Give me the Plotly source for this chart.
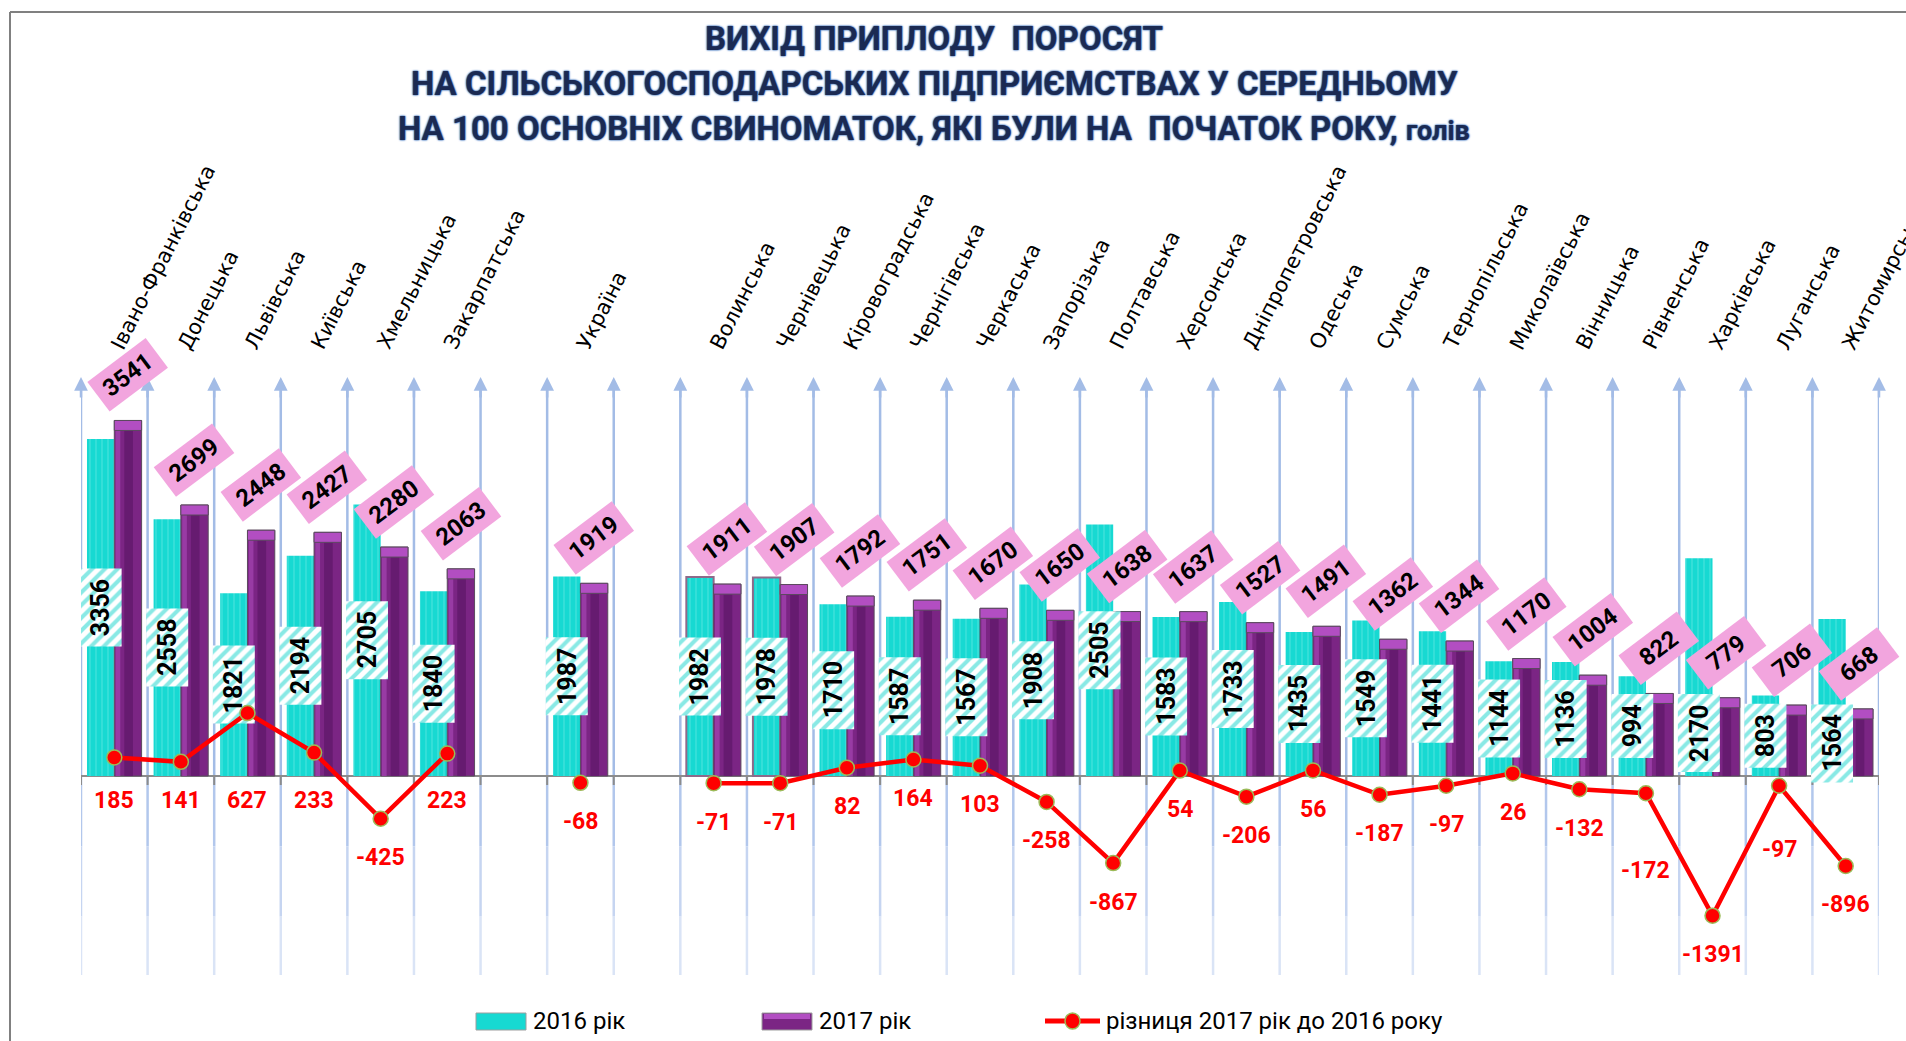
import plotly.graph_objects as go

# ---- data -------------------------------------------------------------
regions = [
    "Івано-Франківська", "Донецька", "Львівська", "Київська", "Хмельницька", "Закарпатська",
    "Україна",
    "Волинська", "Чернівецька", "Кіровоградська", "Чернігівська", "Черкаська", "Запорізька",
    "Полтавська", "Херсонська", "Дніпропетровська", "Одеська", "Сумська", "Тернопільська",
    "Миколаївська", "Вінницька", "Рівненська", "Харківська", "Луганська", "Житомирська",
]
group_sizes = [6, 1, 18]

v2016 = [3356, 2558, 1821, 2194, 2705, 1840,
         1987,
         1982, 1978, 1710, 1587, 1567, 1908, 2505, 1583, 1733, 1435, 1549, 1441,
         1144, 1136, 994, 2170, 803, 1564]
v2017 = [3541, 2699, 2448, 2427, 2280, 2063,
         1919,
         1911, 1907, 1792, 1751, 1670, 1650, 1638, 1637, 1527, 1491, 1362, 1344,
         1170, 1004, 822, 779, 706, 668]
diff = [185, 141, 627, 233, -425, 223,
        -68,
        -71, -71, 82, 164, 103, -258, -867, 54, -206, 56, -187, -97,
        26, -132, -172, -1391, -97, -896]

title_lines = [
    "ВИХІД ПРИПЛОДУ  ПОРОСЯТ",
    "НА СІЛЬСЬКОГОСПОДАРСЬКИХ ПІДПРИЄМСТВАХ У СЕРЕДНЬОМУ",
    "НА 100 ОСНОВНІХ СВИНОМАТОК, ЯКІ БУЛИ НА  ПОЧАТОК РОКУ,",
]
title_unit = "голів"
legend_names = ["2016 рік", "2017 рік", "різниця 2017 рік до 2016 року"]

# ---- layout geometry ----------------------------------------------------
W, H = 1906, 1041
M_L, M_R, M_T, M_B = 81, 27, 300, 66
PW, PH = W - M_L - M_R, H - M_T - M_B
Y_MIN, Y_MAX = -1982, 4741
X_MIN, X_MAX = -0.5, 26.5
U = (Y_MAX - Y_MIN) / PH          # value units per pixel
ARROW_TOP = 3974                   # where the grid arrows end


def px_x(px):
    return (px - M_L) / PW


def px_y(py):
    return (H - M_B - py) / PH


def py_val(py):
    return Y_MAX - (py - M_T) * U


# slot index of every region (one empty slot between groups)
xs = []
pos = 0
for gi, n in enumerate(group_sizes):
    xs.extend(range(pos, pos + n))
    pos += n + 1
n_slots = pos - 1
boundaries = [b - 0.5 for b in range(n_slots + 1)]

# difference line, broken between the groups
x_line, y_line = [], []
k = 0
for gi, n in enumerate(group_sizes):
    x_line.extend(xs[k:k + n])
    y_line.extend(diff[k:k + n])
    k += n
    if gi < len(group_sizes) - 1:
        x_line.append(None)
        y_line.append(None)

CYAN = "#17D9D2"
PURPLE = "#7B2584"
PINK = "#F2A5DE"
RED = "#FF0000"
GRID = "#A3BCE6"
NUM_FONT = "Roboto"

fig = go.Figure()

# 2016 bars
outlined = {"Волинська", "Чернівецька"}
fig.add_trace(go.Bar(
    x=xs, y=v2016, offset=-0.41, width=0.41, name=legend_names[0],
    marker=dict(
        color=CYAN,
        pattern=dict(shape="|", fgcolor="#70E9E4", bgcolor=CYAN, size=6, solidity=0.22),
        line=dict(color=["#8E6A8A" if r in outlined else CYAN for r in regions],
                  width=[2 if r in outlined else 0 for r in regions]),
    ),
    showlegend=False, hoverinfo="skip",
))

# 2017 bars with a bevelled look
fig.add_trace(go.Bar(
    x=xs, y=v2017, offset=0, width=0.41, name=legend_names[1],
    marker=dict(color=PURPLE, line=dict(color="#5B4A5E", width=1)),
    showlegend=False, hoverinfo="skip",
))
fig.add_trace(go.Bar(
    x=xs, y=[v - 10 * U for v in v2017], offset=0.02, width=0.07,
    marker=dict(color="#983BA4", line=dict(width=0)),
    showlegend=False, hoverinfo="skip",
))
fig.add_trace(go.Bar(
    x=xs, y=[v - 10 * U for v in v2017], offset=0.15, width=0.13,
    marker=dict(color="#661B70", line=dict(width=0)),
    showlegend=False, hoverinfo="skip",
))
fig.add_trace(go.Bar(
    x=xs, y=[10 * U] * len(v2017), base=[v - 10 * U for v in v2017], offset=0, width=0.41,
    marker=dict(color="#B24EC2", line=dict(color="#5B4A5E", width=1)),
    showlegend=False, hoverinfo="skip",
))

# hatched boxes behind the 2016 values
label_drop_2016 = {"Харківська": 66, "Житомирська": 46}
box_center = [v / 2 - label_drop_2016.get(r, 0) * U for r, v in zip(regions, v2016)]
box_h = [(len(str(v)) * 14 + 22) * U for v in v2016]
fig.add_trace(go.Bar(
    x=xs, y=box_h, base=[c - h / 2 for c, h in zip(box_center, box_h)],
    offset=-0.52, width=0.63,
    marker=dict(color="white",
                pattern=dict(shape="/", fgcolor="#14D3CC", bgcolor="white", size=9, solidity=0.45),
                line=dict(width=0)),
    showlegend=False, hoverinfo="skip",
))

# difference line
fig.add_trace(go.Scatter(
    x=x_line, y=y_line, mode="lines+markers", name=legend_names[2],
    line=dict(color=RED, width=4.5),
    marker=dict(size=15, color=RED, line=dict(color="#9BBB59", width=1.5)),
    connectgaps=False, showlegend=False, hoverinfo="skip",
))

shapes = []
annotations = []

# vertical grid lines with arrowheads
for b in boundaries:
    shapes.append(dict(type="line", xref="x", yref="y", x0=b, x1=b, y0=0, y1=ARROW_TOP - 8 * U,
                       line=dict(color=GRID, width=2.5), layer="below"))
    for y0, y1, col in [(0, -700, "#B2C7EC"), (-700, -1400, "#C6D5F1"), (-1400, Y_MIN, "#DAE4F6")]:
        shapes.append(dict(type="line", xref="x", yref="y", x0=b, x1=b, y0=y0, y1=y1,
                           line=dict(color=col, width=2.5), layer="below"))
    annotations.append(dict(x=b, y=ARROW_TOP, xref="x", yref="y", text="", showarrow=True,
                            arrowhead=2, arrowsize=1.1, arrowwidth=2.5, arrowcolor=GRID,
                            ax=0, ay=22, standoff=0))
    shapes.append(dict(type="line", xref="x", yref="y", x0=b, x1=b, y0=0, y1=-9 * U,
                       line=dict(color="#8C8C8C", width=2), layer="below"))

# category axis line
shapes.append(dict(type="line", xref="x", yref="y", x0=X_MIN, x1=X_MAX, y0=0, y1=0,
                   line=dict(color="#8C8C8C", width=2), layer="below"))

# rotated category names
for r, x in zip(regions, xs):
    annotations.append(dict(x=x - 0.16, y=py_val(356), xref="x", yref="y", text=r,
                            textangle=-63, showarrow=False, xanchor="left", yanchor="bottom",
                            font=dict(family="DejaVu Sans", size=21, color="black")))

# 2016 values (vertical)
for x, v, c in zip(xs, v2016, box_center):
    annotations.append(dict(x=x - 0.205, y=c, xref="x", yref="y", text=f"<b>{v}</b>",
                            textangle=-90, showarrow=False,
                            font=dict(family=NUM_FONT, size=25, color="black")))

# 2017 values (pink tilted tags)
for x, v in zip(xs, v2017):
    annotations.append(dict(x=x + 0.2, y=v + 45 * U, xref="x", yref="y", text=f"<b>{v}</b>",
                            textangle=-37, showarrow=False, bgcolor=PINK, width=68, height=32,
                            borderpad=2, font=dict(family=NUM_FONT, size=24, color="black")))

# difference values
drop_override = {"Рівненська": 77, "Луганська": 64}
for gi_r, (r, x, d) in enumerate(zip(regions, xs, diff)):
    if gi_r < group_sizes[0] and d > 0:
        y = -24 * U
    else:
        y = d - drop_override.get(r, 39) * U
    annotations.append(dict(x=x, y=y, xref="x", yref="y", text=f"<b>{d}</b>",
                            showarrow=False, font=dict(family=NUM_FONT, size=23, color=RED)))

# title
title_font = dict(family="Roboto", size=33, color="#1B2A52",
                  shadow="0 0 2px #4A7CC0, 0 0 2px #4A7CC0, 0 0 1px #4A7CC0")
title_y = [39, 84, 128]
for i, (t, ty) in enumerate(zip(title_lines, title_y)):
    txt = f"<b>{t}</b>"
    if i == len(title_lines) - 1:
        txt += f" <b><span style='font-size:27px'>{title_unit}</span></b>"
    annotations.append(dict(x=px_x(934), y=px_y(ty), xref="paper", yref="paper", text=txt,
                            showarrow=False, xanchor="center", yanchor="middle", font=title_font))

# legend (drawn by hand)
leg_y0, leg_y1, leg_yc = 1013, 1030, 1021
shapes.append(dict(type="rect", xref="paper", yref="paper", x0=px_x(476), x1=px_x(526),
                   y0=px_y(leg_y1), y1=px_y(leg_y0), fillcolor=CYAN, line=dict(color="#9E9E9E", width=1)))
shapes.append(dict(type="rect", xref="paper", yref="paper", x0=px_x(762), x1=px_x(812),
                   y0=px_y(leg_y1), y1=px_y(leg_y0), fillcolor=PURPLE, line=dict(color="#9E9E9E", width=1)))
shapes.append(dict(type="rect", xref="paper", yref="paper", x0=px_x(764), x1=px_x(810),
                   y0=px_y(leg_y0 + 6), y1=px_y(leg_y0 + 1), fillcolor="#B24EC2", line=dict(width=0)))
shapes.append(dict(type="line", xref="paper", yref="paper", x0=px_x(1045), x1=px_x(1100),
                   y0=px_y(leg_yc), y1=px_y(leg_yc), line=dict(color=RED, width=5)))
shapes.append(dict(type="circle", xref="paper", yref="paper", x0=px_x(1065), x1=px_x(1080),
                   y0=px_y(leg_yc + 8), y1=px_y(leg_yc - 8), fillcolor=RED,
                   line=dict(color="#9BBB59", width=1.5)))
for name, lx in zip(legend_names, [531, 817, 1104]):
    annotations.append(dict(x=px_x(lx), y=px_y(leg_yc), xref="paper", yref="paper", text=name,
                            showarrow=False, xanchor="left", yanchor="middle",
                            font=dict(family="Roboto", size=24, color="black")))

# page frame
shapes.append(dict(type="line", xref="paper", yref="paper", x0=px_x(10), x1=px_x(10),
                   y0=px_y(12), y1=px_y(H), line=dict(color="#808080", width=2)))
shapes.append(dict(type="line", xref="paper", yref="paper", x0=px_x(10), x1=px_x(W),
                   y0=px_y(12), y1=px_y(12), line=dict(color="#808080", width=2)))

fig.update_layout(
    width=W, height=H,
    margin=dict(l=M_L, r=M_R, t=M_T, b=M_B),
    paper_bgcolor="white", plot_bgcolor="white",
    barmode="overlay",
    showlegend=False,
    xaxis=dict(range=[X_MIN, X_MAX], visible=False, fixedrange=True),
    yaxis=dict(range=[Y_MIN, Y_MAX], visible=False, fixedrange=True),
    shapes=shapes,
    annotations=annotations,
)

fig.write_html("out.html")
